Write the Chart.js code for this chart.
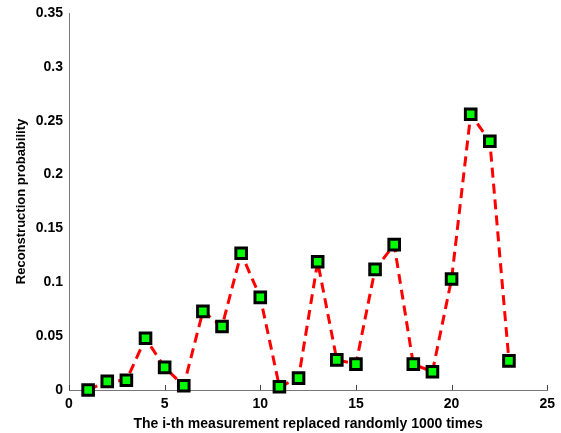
<!DOCTYPE html>
<html>
<head>
<meta charset="utf-8">
<script src="https://cdn.jsdelivr.net/npm/chart.js@4/dist/chart.umd.min.js"></script>
<style>
  html, body { margin: 0; padding: 0; background: #fff; }
  #wrap { width: 561px; height: 433px; }
</style>
</head>
<body>
<div id="wrap"><canvas id="chart"></canvas></div>
<script>
// Data
const measurement = [1, 2, 3, 4, 5, 6, 7, 8, 9, 10, 11, 12, 13, 14, 15, 16, 17, 18, 19, 20, 21, 22, 23];
const probability = [0.000, 0.008, 0.009, 0.048, 0.021, 0.004, 0.073, 0.059, 0.127, 0.086, 0.003, 0.011,
                     0.119, 0.028, 0.024, 0.112, 0.135, 0.024, 0.017, 0.103, 0.256, 0.231, 0.027];
const xTicks = [0, 5, 10, 15, 20, 25];
const yTicks = [0, 0.05, 0.1, 0.15, 0.2, 0.25, 0.3, 0.35];

const tickFont = { family: "'Liberation Sans', Arial, sans-serif", size: 14, weight: 'bold' };
const xTitleFont = { family: "'Liberation Sans', Arial, sans-serif", size: 14, weight: 'bold' };
const yTitleFont = { family: "'Liberation Sans', Arial, sans-serif", size: 13, weight: 'bold' };

// x ticks in the original point inward (up into the plot)
const innerTicks = {
  id: 'innerTicks',
  afterDraw(chart) {
    const x = chart.scales.x;
    const ctx = chart.ctx;
    ctx.save();
    ctx.strokeStyle = '#444';
    ctx.lineWidth = 1;
    xTicks.forEach(v => {
      const px = Math.round(x.getPixelForValue(v)) + 0.5;
      ctx.beginPath();
      ctx.moveTo(px, x.top);
      ctx.lineTo(px, x.top - 5);
      ctx.stroke();
    });
    ctx.restore();
  }
};

const ctx = document.getElementById('chart').getContext('2d');
new Chart(ctx, {
  type: 'line',
  data: {
    datasets: [{
      data: measurement.map((m, i) => ({ x: m, y: probability[i] })),
      borderColor: '#ff0000',
      borderWidth: 3,
      borderDash: [10, 6],
      pointStyle: 'rect',
      pointRadius: 7.5,
      pointBorderWidth: 3,
      pointBorderColor: '#000',
      pointBackgroundColor: '#00ff00',
      tension: 0,
      clip: false
    }]
  },
  options: {
    responsive: true,
    maintainAspectRatio: false,
    animation: false,
    layout: { padding: { top: 13, right: 13, left: 0, bottom: 0 } },
    plugins: { legend: { display: false }, tooltip: { enabled: false } },
    scales: {
      x: {
        type: 'linear',
        min: 0,
        max: 25,
        afterBuildTicks: s => { s.ticks = xTicks.map(v => ({ value: v })); },
        afterFit: s => { s.height = 43; },
        grid: { display: false, drawTicks: false },
        border: { color: '#777', width: 1 },
        ticks: { font: tickFont, color: '#000', padding: 6, maxRotation: 0 },
        title: { display: true, text: 'The i-th measurement replaced randomly 1000 times', font: xTitleFont, color: '#000', padding: { top: 1, bottom: 0 } }
      },
      y: {
        min: 0,
        max: 0.35,
        afterBuildTicks: s => { s.ticks = yTicks.map(v => ({ value: v })); },
        afterFit: s => { s.width = 69; },
        grid: { display: false, drawOnChartArea: false, drawTicks: true, tickLength: 4, color: '#444' },
        border: { color: '#777', width: 1 },
        ticks: { font: tickFont, color: '#000', padding: 2, callback: v => String(+v.toFixed(2)) },
        title: { display: true, text: 'Reconstruction probability', font: yTitleFont, color: '#000', padding: { top: 14, bottom: 2 } }
      }
    }
  },
  plugins: [innerTicks]
});
</script>
</body>
</html>
